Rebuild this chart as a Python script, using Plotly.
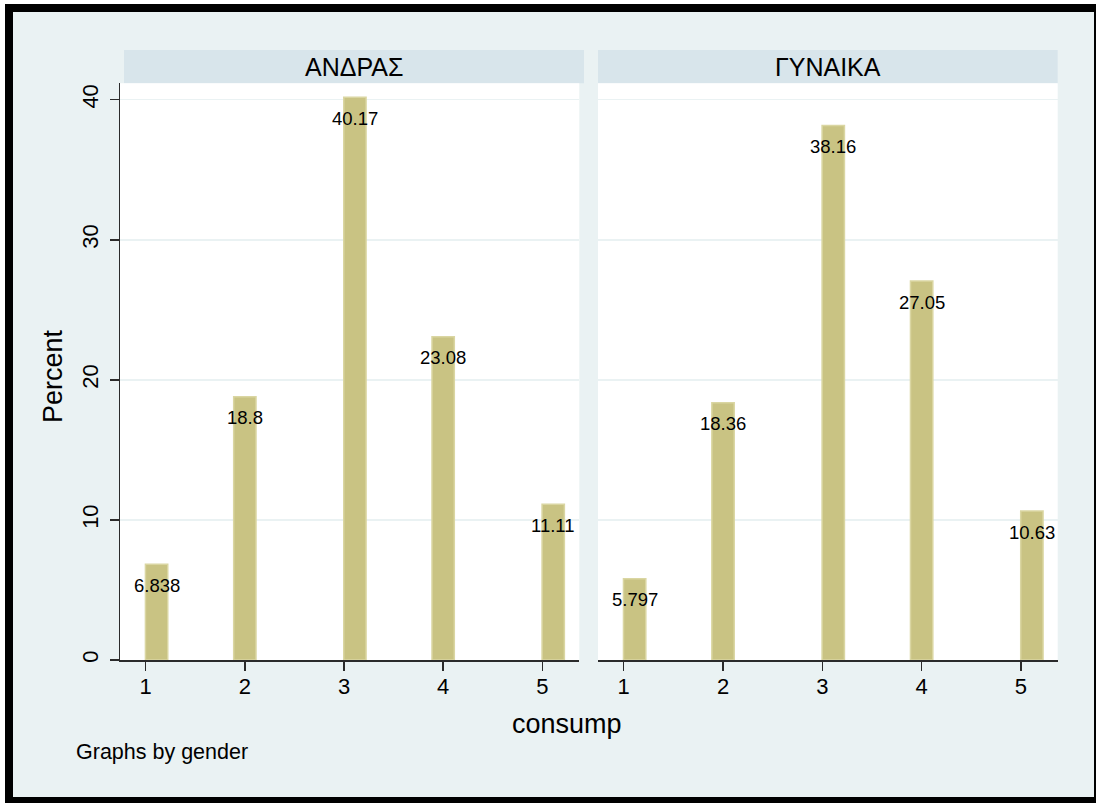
import plotly.graph_objects as go

categories = [1, 2, 3, 4, 5]
bin_centers = [1.11, 2.0, 3.11, 4.0, 5.11]
male_pct = [6.838, 18.8, 40.17, 23.08, 11.11]
female_pct = [5.797, 18.36, 38.16, 27.05, 10.63]
male_labels = ["6.838", "18.8", "40.17", "23.08", "11.11"]
female_labels = ["5.797", "18.36", "38.16", "27.05", "10.63"]
panel_titles = ["ΑΝΔΡΑΣ", "ΓΥΝΑΙΚΑ"]
y_ticks = [0, 10, 20, 30, 40]

W, H = 1096, 803
L, R, T, B = 120, 38, 83, 143
PW = W - L - R
PH = H - T - B

def px(x):
    return (x - L) / PW

def py(y):
    return (H - B - y) / PH

FONT = "Liberation Sans, Arial, Helvetica, sans-serif"
BAR = "#C9C383"
BAR_EDGE = "#DAD6A2"
BG = "#EAF2F3"
STRIP = "#D8E5EB"
GRID = "#EAF2F3"
AX = "#2b2b2b"

fig = go.Figure()

for i, (vals, labs) in enumerate([(male_pct, male_labels), (female_pct, female_labels)]):
    xa = "x" if i == 0 else "x2"
    ya = "y" if i == 0 else "y2"
    fig.add_trace(go.Bar(
        x=bin_centers, y=vals, width=0.225,
        marker=dict(color=BAR, line=dict(color=BAR_EDGE, width=1.5)),
        xaxis=xa, yaxis=ya, showlegend=False, hoverinfo="skip",
    ))
    for xc, v, t in zip(bin_centers, vals, labs):
        fig.add_annotation(
            x=xc, y=v, xref=xa, yref=ya, text=t, showarrow=False,
            yanchor="middle", xanchor="center", yshift=-21,
            font=dict(family=FONT, size=18.5, color="#000"),
        )

shapes = [
    dict(type="rect", xref="paper", yref="paper", x0=px(5), x1=px(1110), y0=py(4), y1=py(815),
         fillcolor="#000000", line=dict(width=0), layer="below"),
    dict(type="rect", xref="paper", yref="paper", x0=px(13), x1=px(1094), y0=py(12), y1=py(797),
         fillcolor=BG, line=dict(width=0), layer="below"),
    dict(type="rect", xref="paper", yref="paper", x0=px(124), x1=px(584), y0=py(83.3), y1=py(50),
         fillcolor=STRIP, line=dict(width=0), layer="below"),
    dict(type="rect", xref="paper", yref="paper", x0=px(598), x1=px(1057.7), y0=py(83.3), y1=py(50),
         fillcolor=STRIP, line=dict(width=0), layer="below"),
    dict(type="rect", xref="paper", yref="paper", x0=px(120), x1=px(579.3), y0=py(660), y1=py(83.3),
         fillcolor="#FFFFFF", line=dict(width=0), layer="below"),
    dict(type="rect", xref="paper", yref="paper", x0=px(598), x1=px(1057.7), y0=py(660), y1=py(83.3),
         fillcolor="#FFFFFF", line=dict(width=0), layer="below"),
]

for t, xc in zip(panel_titles, [(124 + 584) / 2, (598 + 1057.7) / 2]):
    fig.add_annotation(x=px(xc), y=py(66.5), xref="paper", yref="paper", text=t,
                       showarrow=False, xanchor="center", yanchor="middle",
                       font=dict(family=FONT, size=25, color="#000"))

fig.add_annotation(x=px(53), y=py(376), xref="paper", yref="paper", text="Percent",
                   textangle=-90, showarrow=False, xanchor="center", yanchor="middle",
                   font=dict(family=FONT, size=27, color="#000"))
fig.add_annotation(x=px(567), y=py(724), xref="paper", yref="paper", text="consump",
                   showarrow=False, xanchor="center", yanchor="middle",
                   font=dict(family=FONT, size=27, color="#000"))
fig.add_annotation(x=px(74), y=py(752), xref="paper", yref="paper", text="Graphs by gender",
                   showarrow=False, xanchor="left", yanchor="middle",
                   font=dict(family=FONT, size=21.5, color="#000"))

xcommon = dict(range=[0.741, 5.373], tickvals=categories, ticktext=[str(c) for c in categories],
               showline=True, linecolor=AX, linewidth=1.5, ticks="outside", ticklen=9,
               tickwidth=1.5, tickcolor=AX, showgrid=False, zeroline=False,
               ticklabelstandoff=-3,
               tickfont=dict(family=FONT, size=22, color="#000"), fixedrange=True)

fig.update_layout(
    width=W, height=H,
    margin=dict(l=L, r=R, t=T, b=B, pad=0),
    paper_bgcolor="#FFFFFF",
    plot_bgcolor="rgba(0,0,0,0)",
    bargap=0,
    shapes=shapes,
    xaxis=dict(domain=[0, px(579.3)], anchor="y", **xcommon),
    xaxis2=dict(domain=[px(598), 1], anchor="y2", **xcommon),
    yaxis=dict(range=[0, 41.19], tickvals=y_ticks, ticktext=[str(v) for v in y_ticks],
               tickangle=-90, showline=True, linecolor=AX, linewidth=1.5,
               ticks="outside", ticklen=9, tickwidth=1.5, tickcolor=AX,
               ticklabelstandoff=3,
               showgrid=True, gridcolor=GRID, gridwidth=1.5, zeroline=False,
               tickfont=dict(family=FONT, size=22, color="#000"), anchor="x",
               fixedrange=True),
    yaxis2=dict(range=[0, 41.19], tickvals=y_ticks, showticklabels=False,
                showline=False, ticks="", showgrid=True, gridcolor=GRID, gridwidth=1.5,
                zeroline=False, anchor="x2", matches="y"),
)

fig.write_html("out.html", config={"displayModeBar": False, "staticPlot": True},
               post_script="document.body.style.margin='0';document.body.style.overflow='hidden';")
